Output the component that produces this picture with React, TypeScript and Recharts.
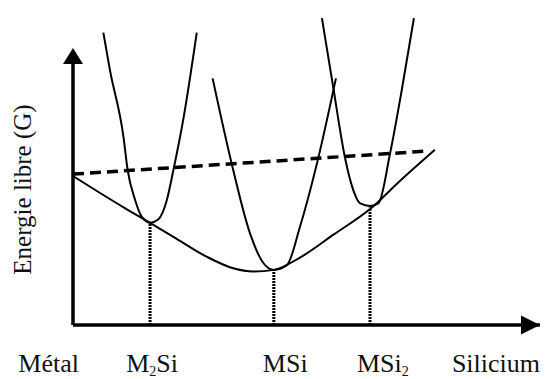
import { ComposedChart, Line, ReferenceLine, Scatter, XAxis, YAxis } from "recharts";

// composition axis (0 = métal, 100 = silicium), G in arbitrary units
const tickValues = [0, 16.5, 43.0, 63.6, 100];
const tickNames = ["Métal", "M_2Si", "MSi", "MSi_2", "Silicium"];

const phaseX = [16.5, 43.0, 63.6];
const phaseG = [32.4, 17.5, 37.3];

const curveM2Si = [
  { x: 6.5, g: 92.8 },
  { x: 7.9, g: 81.0 },
  { x: 10.8, g: 59.8 },
  { x: 11.7, g: 49.2 },
  { x: 13.3, g: 39.7 },
  { x: 14.7, g: 34.4 },
  { x: 16.5, g: 32.5 },
  { x: 18.3, g: 33.6 },
  { x: 20.1, g: 39.7 },
  { x: 21.5, g: 49.2 },
  { x: 23.6, g: 65.1 },
  { x: 26.5, g: 92.8 },
];

const curveMSi = [
  { x: 29.9, g: 78.3 },
  { x: 34.0, g: 51.1 },
  { x: 37.9, g: 29.1 },
  { x: 40.8, g: 19.6 },
  { x: 43.0, g: 17.5 },
  { x: 45.8, g: 19.0 },
  { x: 48.6, g: 31.2 },
  { x: 52.5, g: 52.9 },
  { x: 56.3, g: 78.3 },
];

const curveMSi2 = [
  { x: 53.3, g: 97.4 },
  { x: 55.7, g: 75.7 },
  { x: 58.2, g: 53.4 },
  { x: 60.0, g: 42.9 },
  { x: 61.5, g: 38.6 },
  { x: 63.6, g: 37.8 },
  { x: 65.4, g: 38.6 },
  { x: 67.9, g: 54.5 },
  { x: 70.4, g: 74.6 },
  { x: 73.0, g: 97.4 },
];

const envelope = [
  { x: 0, g: 47.3 },
  { x: 5.8, g: 41.9 },
  { x: 11.1, g: 37.1 },
  { x: 16.5, g: 32.4 },
  { x: 21.5, g: 28.0 },
  { x: 28.6, g: 21.7 },
  { x: 34.3, g: 18.0 },
  { x: 38.6, g: 17.0 },
  { x: 43.0, g: 17.5 },
  { x: 48.6, g: 21.4 },
  { x: 55.7, g: 28.6 },
  { x: 63.6, g: 36.8 },
  { x: 70.0, g: 45.7 },
  { x: 77.5, g: 55.6 },
];

const mixture = [
  { x: 0, g: 47.9 },
  { x: 75.8, g: 55.2 },
];

const yAxisTop = 83.5;
const yArrow = [{ x: 0, g: 87.9 }];
const xArrow = [{ x: 100, g: 0 }];

const FONT = '"Liberation Serif", "Times New Roman", serif';

const anchors: Record<string, { anchor: "start" | "middle" | "end"; dx: number }> = {
  "Métal": { anchor: "end", dx: 6 },
  "M_2Si": { anchor: "middle", dx: 2 },
  "MSi": { anchor: "start", dx: -11 },
  "MSi_2": { anchor: "start", dx: -13 },
  "Silicium": { anchor: "end", dx: 0 },
};

function CompTick(props: any) {
  const { x, y, payload } = props;
  const name = tickNames[tickValues.indexOf(payload.value)] ?? "";
  const a = anchors[name] ?? { anchor: "middle", dx: 0 };
  const parts = name.split(/_(\d)/);
  return (
    <text
      x={x + a.dx}
      y={y + 39}
      textAnchor={a.anchor}
      fontFamily={FONT}
      fontSize={26}
      fill="#111"
    >
      {parts.map((p, i) =>
        i % 2 === 1 ? (
          <tspan key={i} fontSize={14} dy={4}>
            {p}
          </tspan>
        ) : (
          <tspan key={i} dy={i > 0 ? -4 : 0}>
            {p}
          </tspan>
        )
      )}
    </text>
  );
}

const UpArrow = (p: any) => (
  <polygon
    points={`${p.cx},${p.cy} ${p.cx - 10},${p.cy + 16} ${p.cx + 10},${p.cy + 16}`}
    fill="#000"
  />
);

const RightArrow = (p: any) => (
  <polygon
    points={`${p.cx},${p.cy} ${p.cx - 19},${p.cy - 9.5} ${p.cx - 19},${p.cy + 9.5}`}
    fill="#000"
  />
);

export default function App() {
  return (
    <div style={{ position: "absolute", left: 0, top: 0, width: 545, height: 379, background: "#fff" }}>
      <ComposedChart width={545} height={379} margin={{ top: 10, right: 5, bottom: 0, left: 0 }}>
        <XAxis
          type="number"
          dataKey="x"
          domain={[0, 100]}
          ticks={tickValues}
          interval={0}
          height={54}
          tickLine={false}
          axisLine={{ stroke: "#000", strokeWidth: 3.5 }}
          tick={<CompTick />}
        />
        <YAxis
          type="number"
          dataKey="g"
          domain={[0, 100]}
          width={73}
          tick={false}
          tickLine={false}
          axisLine={false}
          label={{
            value: "Energie libre (G)",
            angle: -90,
            position: "center",
            dx: -14,
            dy: 22,
            style: { fontFamily: FONT, fontSize: 25, fill: "#111" },
          }}
        />
        <ReferenceLine
          segment={[{ x: 0, y: 0 }, { x: 0, y: yAxisTop }]}
          stroke="#000"
          strokeWidth={3.5}
        />
        {phaseX.map((px, i) => (
          <ReferenceLine
            key={px}
            segment={[{ x: px, y: 0 }, { x: px, y: phaseG[i] }]}
            stroke="#000"
            strokeWidth={3}
            strokeDasharray="2 1"
          />
        ))}
        <Line data={mixture} dataKey="g" type="linear" stroke="#000" strokeWidth={3.5}
          strokeDasharray="11 6" dot={false} activeDot={false} isAnimationActive={false} />
        <Line data={envelope} dataKey="g" type="monotone" stroke="#000" strokeWidth={2}
          dot={false} activeDot={false} isAnimationActive={false} />
        <Line data={curveM2Si} dataKey="g" type="monotone" stroke="#000" strokeWidth={2}
          dot={false} activeDot={false} isAnimationActive={false} />
        <Line data={curveMSi} dataKey="g" type="monotone" stroke="#000" strokeWidth={2}
          dot={false} activeDot={false} isAnimationActive={false} />
        <Line data={curveMSi2} dataKey="g" type="monotone" stroke="#000" strokeWidth={2}
          dot={false} activeDot={false} isAnimationActive={false} />
        <Scatter data={yArrow} shape={<UpArrow />} isAnimationActive={false} />
        <Scatter data={xArrow} shape={<RightArrow />} isAnimationActive={false} />
      </ComposedChart>
    </div>
  );
}
